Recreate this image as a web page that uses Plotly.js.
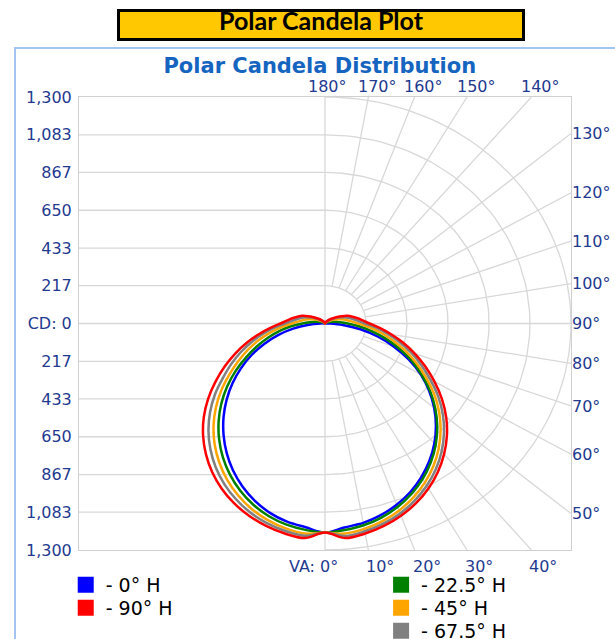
<!DOCTYPE html>
<html><head><meta charset="utf-8">
<script src="https://cdn.plot.ly/plotly-3.0.1.min.js"></script>
<style>
html,body{margin:0;padding:0;background:#fff;}
#wrap{position:relative;width:615px;height:639px;overflow:hidden;background:#fff;}
#frame{position:absolute;left:14px;top:47px;width:700px;height:700px;border-left:2px solid #a3c4ef;border-top:2px solid #a3c4ef;}
#banner{position:absolute;left:117px;top:9px;width:402px;height:26px;background:#FFC800;border:3px solid #000;font-family:Lato,"Open Sans",sans-serif;font-weight:bold;font-size:25px;text-align:center;line-height:17px;color:#000;white-space:nowrap;}
#chart{position:absolute;left:0;top:0;width:615px;height:639px;}
</style></head>
<body><div id="wrap"><div id="frame"></div><div id="chart"></div><div id="banner">Polar Candela Plot</div></div>
<script>
// vertical angles (deg)
const VA = [0,5,10,15,20,25,30,35,40,45,50,55,60,65,70,75,80,85,90,95,100,105,110,115,120,130,140,150,160,170,180];
// candela values, right half (H plane) and left half (opposite plane)
const cd_0H_right  = [1200,1175,1162,1139,1107,1067,1018,962,899,829,753,671,584,488,388,288,190,95,25,8,0,0,0,0,0,0,0,0,0,0,0];
const cd_0H_left   = [1200,1174,1155,1125,1083,1032,973,906,834,758,678,596,512,428,342,257,171,86,25,8,0,0,0,0,0,0,0,0,0,0,0];
const cd_22H_right = [1200,1190,1176,1153,1121,1080,1031,974,910,839,761,679,591,505,415,330,250,180,120,80,55,38,25,16,10,4,1,0,0,0,0];
const cd_22H_left  = [1200,1189,1172,1145,1107,1059,1003,940,870,795,715,632,546,460,382,310,243,180,120,80,55,38,25,16,10,4,1,0,0,0,0];
const cd_45H_right = [1200,1210,1197,1174,1143,1103,1055,999,935,864,787,704,615,530,448,370,298,232,175,140,115,92,72,55,40,18,8,3,1,0,0];
const cd_45H_left  = [1200,1210,1194,1168,1133,1088,1035,974,907,833,753,669,582,503,430,360,292,230,175,140,115,92,72,55,40,18,8,3,1,0,0];
const cd_67H_right = [1200,1224,1211,1189,1160,1121,1075,1021,959,889,813,730,642,560,482,405,335,270,212,175,150,128,105,80,60,30,14,6,3,1,0];
const cd_67H_left  = [1200,1223,1209,1186,1154,1113,1064,1007,942,871,793,710,622,545,470,398,330,268,212,175,150,128,105,80,60,30,14,6,3,1,0];
const cd_90H       = [1200,1236,1224,1203,1174,1138,1093,1040,979,911,836,754,668,585,505,428,355,290,235,200,175,150,128,100,75,40,20,10,5,2,0];

const seriesNames  = ['- 0° H','- 22.5° H','- 45° H','- 67.5° H','- 90° H'];
const seriesColors = ['#0000FF','#008000','#FFA500','#808080','#FF0000'];
const seriesLegend = ['legend','legend3','legend4','legend5','legend2'];
const seriesLeft   = [cd_0H_left, cd_22H_left, cd_45H_left, cd_67H_left, cd_90H];
const seriesRight  = [cd_0H_right, cd_22H_right, cd_45H_right, cd_67H_right, cd_90H];

// axis / grid definitions (cd)
const CD_MAX = 1300;
const cdTicks = [1300,1083,867,650,433,217,0,-217,-433,-650,-867,-1083,-1300];
const cdTickText = ['1,300','1,083','867','650','433','217','CD: 0','217','433','650','867','1,083','1,300'];
const ringCd = [217,433,650,867,1083,1300];
const spokeVA = [10,20,30,40,50,60,70,80,90,100,110,120,130,140,150,160,170];
const rightLabelVA = [50,60,70,80,90,100,110,120,130];
const bottomLabelVA = [0,10,20,30,40];
const bottomLabelText = ['VA: 0°','10°','20°','30°','40°'];
const topLabelVA = [180,170,160,150,140];
const topLabelText = ['180°','170°','160°','150°','140°'];

const rad = d => d*Math.PI/180;
const NAVY = '#1f3a8f';
const GRID = '#d8d8d8';

function curve(left, right){
  const xs=[], ys=[];
  const push=(x,y)=>{ const n=xs.length; if(n && Math.abs(xs[n-1]-x)<1e-6 && Math.abs(ys[n-1]-y)<1e-6) return; xs.push(x); ys.push(y); };
  for(let i=VA.length-1;i>=0;i--){ const t=rad(VA[i]); push(-left[i]*Math.sin(t), -left[i]*Math.cos(t)); }
  for(let i=1;i<VA.length;i++){ const t=rad(VA[i]); push(right[i]*Math.sin(t), -right[i]*Math.cos(t)); }
  return {xs, ys};
}

// grid traces
const gx=[], gy=[];
cdTicks.forEach(v=>{ if(Math.abs(v)<CD_MAX){ gx.push(-CD_MAX,0,null); gy.push(v,v,null);} });
gx.push(0,0,null); gy.push(-CD_MAX,CD_MAX,null);
ringCd.forEach(R=>{ for(let a=0;a<=180;a+=2){ gx.push(R*Math.sin(rad(a))); gy.push(-R*Math.cos(rad(a))); } gx.push(null); gy.push(null); });
spokeVA.forEach(a=>{
  const s=Math.sin(rad(a)), c=Math.cos(rad(a));
  const r1=Math.min(CD_MAX/Math.abs(s), Math.abs(c)>1e-9?CD_MAX/Math.abs(c):Infinity);
  gx.push(ringCd[0]*s, r1*s, null); gy.push(-ringCd[0]*c, -r1*c, null);
});

const traces=[{type:'scatter',mode:'lines',x:gx,y:gy,line:{color:GRID,width:1.3},hoverinfo:'skip',showlegend:false}];
traces.push({type:'scatter',mode:'lines',x:[0],y:[0],yaxis:'y2',line:{width:0},hoverinfo:'skip',showlegend:false});
for(let k=0;k<5;k++){
  const c=curve(seriesLeft[k], seriesRight[k]);
  traces.push({type:'scatter',mode:'lines',x:c.xs,y:c.ys,line:{color:seriesColors[k],width:2.5,shape:'spline',smoothing:1},name:seriesNames[k],showlegend:false,hoverinfo:'skip'});
}
for(let k=0;k<5;k++){
  traces.push({type:'scatter',mode:'markers',x:[null],y:[null],marker:{symbol:'square',size:17,color:seriesColors[k]},name:seriesNames[k],legend:seriesLegend[k],showlegend:true});
}

const annotations=[];
bottomLabelVA.forEach((a,i)=>{
  const x=CD_MAX*Math.tan(rad(a));
  annotations.push({x:x,xref:'x',y:-0.036,yref:'paper',text:bottomLabelText[i],showarrow:false,
    xanchor:i===0?'right':'center',xshift:i===0?15:12,yanchor:'middle',font:{family:'DejaVu Sans',size:16,color:NAVY}});
});
topLabelVA.forEach((a,i)=>{
  const x=CD_MAX*Math.tan(rad(180-a));
  annotations.push({x:x,xref:'x',y:1.023,yref:'paper',text:topLabelText[i],showarrow:false,
    xanchor:'center',xshift:i===0?2:9,yanchor:'middle',font:{family:'DejaVu Sans',size:16,color:NAVY}});
});

const rightTickVals = rightLabelVA.map(a=>-CD_MAX*Math.cos(rad(a))/Math.sin(rad(a)));
const rightTickText = rightLabelVA.map(a=>a+'°');

const legFont={family:'DejaVu Sans',size:19,color:'#000'};
const mkLeg=(x,y)=>({x:x,xanchor:'left',y:y,yanchor:'middle',bgcolor:'rgba(0,0,0,0)',font:legFont,tracegroupgap:0});

const layout={
  width:615,height:639,
  margin:{l:79,r:44,t:97,b:89,autoexpand:false},
  paper_bgcolor:'rgba(0,0,0,0)',plot_bgcolor:'rgba(0,0,0,0)',
  showlegend:true,
  title:{text:'Polar Candela Distribution',xref:'container',yref:'container',x:0.52,y:0.897,xanchor:'center',yanchor:'middle',
    font:{family:'DejaVu Sans',size:21,color:'#1565c0',weight:'bold'}},
  xaxis:{range:[-CD_MAX,CD_MAX],showgrid:false,zeroline:false,showline:true,mirror:true,linecolor:'#d0d0d0',linewidth:1,showticklabels:false,ticks:'',fixedrange:true},
  yaxis:{range:[-CD_MAX,CD_MAX],showgrid:false,zeroline:false,showline:true,mirror:true,linecolor:'#d0d0d0',linewidth:1,ticks:'',ticklabelstandoff:3,
    tickmode:'array',tickvals:cdTicks,ticktext:cdTickText,tickfont:{family:'DejaVu Sans',size:16,color:NAVY},fixedrange:true},
  yaxis2:{range:[-CD_MAX,CD_MAX],overlaying:'y',side:'right',showgrid:false,zeroline:false,showline:false,ticks:'',
    tickmode:'array',tickvals:rightTickVals,ticktext:rightTickText,tickfont:{family:'DejaVu Sans',size:16,color:NAVY},fixedrange:true},
  legend: mkLeg(-0.027,-0.077),
  legend2:mkLeg(-0.027,-0.1278),
  legend3:mkLeg(0.614,-0.077),
  legend4:mkLeg(0.614,-0.1278),
  legend5:mkLeg(0.614,-0.1786),
  annotations:annotations
};
Plotly.newPlot('chart',traces,layout,{displayModeBar:false,staticPlot:true});
</script></body></html>
